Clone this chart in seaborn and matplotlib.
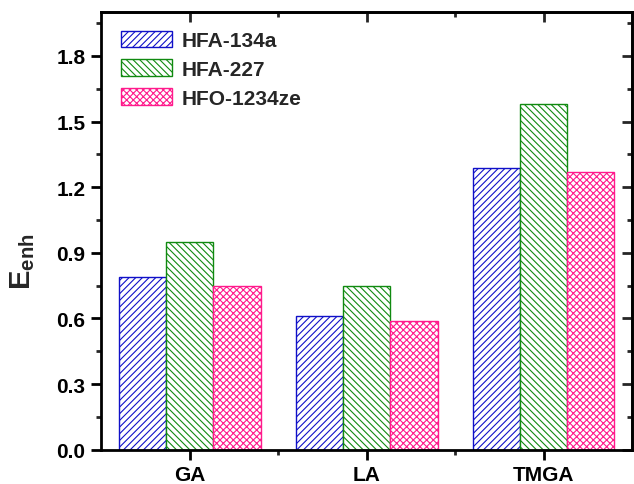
import matplotlib
matplotlib.use("Agg")
import matplotlib.pyplot as plt
import seaborn as sns
import pandas as pd
from matplotlib.patches import Patch
from matplotlib.ticker import MultipleLocator, FixedLocator

categories = ["GA", "LA", "TMGA"]
series_names = ["HFA-134a", "HFA-227", "HFO-1234ze"]
hfa134a = [0.79, 0.61, 1.29]
hfa227 = [0.95, 0.75, 1.58]
hfo1234ze = [0.75, 0.59, 1.27]
y_ticks = [0.0, 0.3, 0.6, 0.9, 1.2, 1.5, 1.8]

colors = ["#1010C8", "#108A10", "#FF1A8C"]
hatches = ["/////", "\\\\\\\\\\", "xxxxx"]

sns.set_style("ticks")
plt.rcParams["font.family"] = ["Liberation Sans", "DejaVu Sans"]
plt.rcParams["font.weight"] = "bold"
plt.rcParams["mathtext.fontset"] = "custom"
plt.rcParams["mathtext.rm"] = "Liberation Sans:bold"
plt.rcParams["mathtext.bf"] = "Liberation Sans:bold"
plt.rcParams["hatch.linewidth"] = 0.8

rows = []
for name, vals in zip(series_names, [hfa134a, hfa227, hfo1234ze]):
    for c, v in zip(categories, vals):
        rows.append({"cat": c, "series": name, "val": v})
df = pd.DataFrame(rows)

fig = plt.figure(figsize=(6.34, 4.85), dpi=100)
ax = fig.add_axes([0.160, 0.0707, 0.837, 0.902])

sns.barplot(data=df, x="cat", y="val", hue="series", order=categories,
            hue_order=series_names, palette=["white"] * 3, width=0.8,
            legend=False, ax=ax, saturation=1)

for cont, col, h in zip(ax.containers, colors, hatches):
    for bar in cont:
        bar.set_facecolor("white")
        bar.set_edgecolor(col)
        bar.set_hatch(h)
        bar.set_linewidth(1.0)

ax.set_xlim(-0.5, 2.5)
ax.set_ylim(0, 2.0)
ax.set_yticks(y_ticks)
ax.set_yticklabels([f"{t:.1f}" for t in y_ticks])
ax.yaxis.set_minor_locator(MultipleLocator(0.15))
ax.xaxis.set_minor_locator(FixedLocator([0.5, 1.5]))
ax.set_xlabel("")
ax.set_ylabel(r"$\mathbf{E}_{\mathbf{enh}}$", fontsize=21)
ax.yaxis.set_label_coords(-0.121, 0.433)

for s in ax.spines.values():
    s.set_linewidth(2.0)
    s.set_color("black")
    s.set_visible(True)

ax.tick_params(axis="both", which="major", direction="out", length=7, width=2,
               labelsize=15, pad=4.5, colors="black")
ax.tick_params(axis="both", which="minor", direction="out", length=3.5, width=2)
ax.tick_params(axis="x", which="major", pad=4)
for lab in ax.get_xticklabels() + ax.get_yticklabels():
    lab.set_fontweight("bold")

sec_y = ax.secondary_yaxis("right")
sec_y.set_yticks(y_ticks)
sec_y.yaxis.set_minor_locator(MultipleLocator(0.15))
sec_y.tick_params(which="major", direction="in", length=7, width=2, labelright=False)
sec_y.tick_params(which="minor", direction="in", length=3.5, width=2)
sec_y.spines["right"].set_linewidth(2.0)

sec_x = ax.secondary_xaxis("top")
sec_x.set_xticks([0, 1, 2])
sec_x.xaxis.set_minor_locator(FixedLocator([0.5, 1.5]))
sec_x.tick_params(which="major", direction="in", length=7, width=2, labeltop=False)
sec_x.tick_params(which="minor", direction="in", length=3.5, width=2)
sec_x.spines["top"].set_linewidth(2.0)

handles = [Patch(facecolor="white", edgecolor=c, hatch=h, linewidth=1.0)
           for c, h in zip(colors, hatches)]
ax.legend(handles, series_names, loc="upper left", bbox_to_anchor=(0.0377, 0.958),
          frameon=False, borderpad=0, borderaxespad=0, handlelength=2.45,
          handleheight=0.85, handletextpad=0.42, labelspacing=0.44,
          prop={"weight": "bold", "size": 15})

fig.savefig("out.png", dpi=100, facecolor="white")
